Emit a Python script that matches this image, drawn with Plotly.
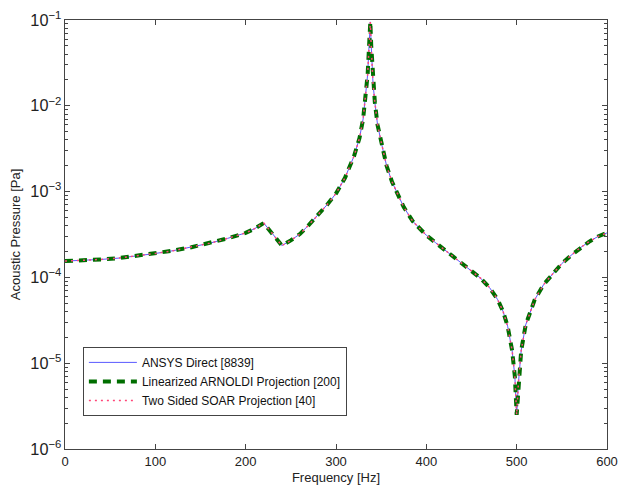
import plotly.graph_objects as go

# Frequency response sampled along the sweep (Hz)
freq_hz = [0, 20, 40, 60, 80, 100, 120, 140, 160, 180, 200, 210, 220, 230, 240,
           250, 260, 270, 280, 290, 300, 306, 310, 320, 326, 330, 333, 335, 337,
           338, 339, 341, 343, 346, 350, 356, 362, 367, 375, 385, 400, 410, 420,
           430, 440, 450, 460, 470, 479, 485, 490, 495, 498, 500, 502, 505, 510,
           520, 530, 540, 550, 560, 570, 580, 590, 600]

# Acoustic pressure magnitude (Pa)
pressure_pa = [1.55e-4, 1.57e-4, 1.62e-4, 1.68e-4, 1.78e-4, 1.90e-4, 2.05e-4,
               2.25e-4, 2.5e-4, 2.85e-4, 3.3e-4, 3.7e-4, 4.3e-4, 3.2e-4, 2.35e-4,
               2.7e-4, 3.2e-4, 4.1e-4, 5.3e-4, 7.0e-4, 9.5e-4, 1.2e-3, 1.45e-3,
               2.6e-3, 4.2e-3, 7e-3, 1.3e-2, 2.3e-2, 6e-2,
               9.5e-2, 5e-2, 1.8e-2, 1.1e-2, 6e-3, 3.8e-3, 2.0e-3, 1.3e-3,
               1.0e-3, 6.6e-4, 4.5e-4, 3.1e-4, 2.55e-4, 2.1e-4,
               1.75e-4, 1.45e-4, 1.2e-4, 9.8e-5, 7.6e-5, 5.5e-5, 4e-5, 2.7e-5,
               1.4e-5, 7e-6, 2.5e-6, 6e-6, 1.4e-5, 2.8e-5,
               5.5e-5, 8.3e-5, 1.1e-4, 1.45e-4, 1.8e-4, 2.2e-4, 2.6e-4, 3.0e-4, 3.3e-4]

series_names = ["ANSYS Direct [8839]",
                "Linearized ARNOLDI Projection [200]",
                "Two Sided SOAR Projection [40]"]

FONT = "Liberation Sans, Arial, Helvetica, sans-serif"

fig = go.Figure()
fig.add_trace(go.Scatter(x=freq_hz, y=pressure_pa, mode="lines", name=series_names[0],
                         line=dict(color="rgb(90,90,255)", width=1)))
fig.add_trace(go.Scatter(x=freq_hz, y=pressure_pa, mode="lines", name=series_names[1],
                         line=dict(color="rgb(0,110,0)", width=4, dash="8px,6px")))
fig.add_trace(go.Scatter(x=freq_hz, y=pressure_pa, mode="lines", name=series_names[2],
                         line=dict(color="rgb(255,70,120)", width=1.5, dash="2px,4px")))

axis_common = dict(showline=True, linecolor="#444", linewidth=1, mirror="allticks",
                   ticks="inside", tickcolor="#444", showgrid=False, zeroline=False,
                   automargin=False, ticklabeloverflow="allow",
                   tickfont=dict(family=FONT, size=13, color="#222"))

fig.update_xaxes(range=[0, 600], tickvals=[0, 100, 200, 300, 400, 500, 600],
                 ticklen=5,
                 title=dict(text="Frequency [Hz]", font=dict(family=FONT, size=13, color="#222"),
                            standoff=5),
                 **axis_common)
fig.update_yaxes(type="log", range=[-6, -1], dtick=1, exponentformat="power",
                 ticklen=5,
                 minor=dict(ticks="inside", ticklen=3, tickcolor="#444"),
                 title=dict(text="Acoustic Pressure [Pa]", font=dict(family=FONT, size=13, color="#222"),
                            standoff=6),
                 **axis_common)

fig.update_layout(
    width=622, height=493,
    margin=dict(l=65, r=15, t=20, b=44),
    paper_bgcolor="white", plot_bgcolor="white",
    font=dict(family=FONT, size=13, color="#222"),
    legend=dict(x=0.033, y=0.238, xanchor="left", yanchor="top",
                bgcolor="white", bordercolor="#444", borderwidth=1,
                font=dict(family=FONT, size=12, color="#111"),
                tracegroupgap=0, itemwidth=48),
    showlegend=True,
)

fig.write_html("out.html")
